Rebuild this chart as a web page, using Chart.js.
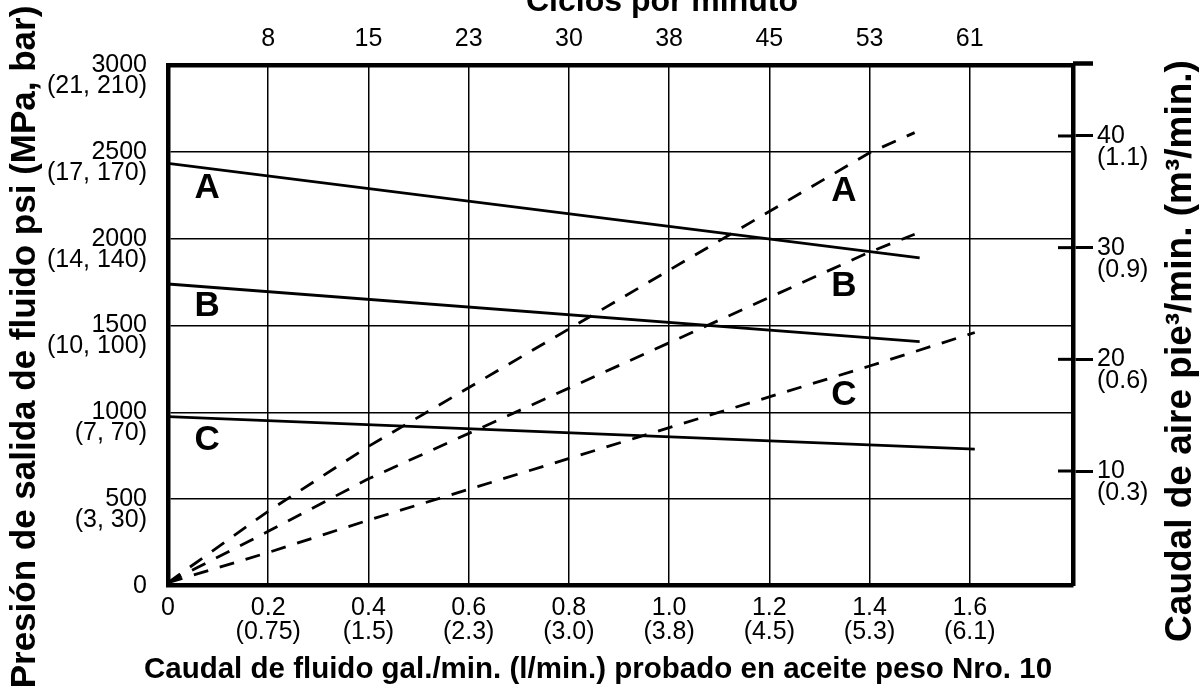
<!DOCTYPE html>
<html>
<head>
<meta charset="utf-8">
<script src="https://cdn.jsdelivr.net/npm/chart.js@4.4.0/dist/chart.umd.min.js"></script>
<style>
  html, body { margin: 0; padding: 0; background: #fff; }
  canvas { display: block; }
</style>
</head>
<body>
<canvas id="pumpChart" width="1204" height="696"></canvas>
<script>
// outlet fluid pressure (psi) against fluid flow (gal/min) - solid lines
const flowA = [0, 1.5];
const psiA = [2436, 1890];
const flowB = [0, 1.5];
const psiB = [1740, 1407];
const flowC = [0, 1.61];
const psiC = [975, 788];

// air consumption (cfm) against fluid flow (gal/min) - dashed lines
const airFlowA = [0, 0.2, 0.4, 1.4, 1.49];
const cfmA = [0, 6.4, 12.2, 38.5, 40.3];
const airFlowB = [0, 0.2, 0.4, 1.4, 1.49];
const cfmB = [0, 4.6, 9.3, 29.6, 31.2];
const airFlowC = [0, 0.2, 0.4, 1.4, 1.61];
const cfmC = [0, 2.7, 5.6, 19.4, 22.4];

// axis ticks and their labels
const gpmTicks = [0, 0.2, 0.4, 0.6, 0.8, 1.0, 1.2, 1.4, 1.6];
const lpmLabels = ['', '(0.75)', '(1.5)', '(2.3)', '(3.0)', '(3.8)', '(4.5)', '(5.3)', '(6.1)'];
const cycleTicks = [0.2, 0.4, 0.6, 0.8, 1.0, 1.2, 1.4, 1.6];
const cycleLabels = ['8', '15', '23', '30', '38', '45', '53', '61'];
const psiTicks = [0, 500, 1000, 1500, 2000, 2500, 3000];
const mpaBarLabels = ['', '(3, 30)', '(7, 70)', '(10, 100)', '(14, 140)', '(17, 170)', '(21, 210)'];
const cfmTicks = [10, 20, 30, 40];
const m3Labels = ['(0.3)', '(0.6)', '(0.9)', '(1.1)'];

// curve letters, placed in fluid flow / psi units
const curveTags = [
    { text: 'A', x: 0.078, y: 2293 },
    { text: 'B', x: 0.078, y: 1613 },
    { text: 'C', x: 0.078, y: 840 },
    { text: 'A', x: 1.349, y: 2276 },
    { text: 'B', x: 1.349, y: 1728 },
    { text: 'C', x: 1.349, y: 1097 }
];

const FONT = '"Liberation Sans", Arial, Helvetica, sans-serif';

const toPoints = (xs, ys) => xs.map((x, i) => ({ x: x, y: ys[i] }));

function solidSet(xs, ys) {
    return {
        data: toPoints(xs, ys),
        yAxisID: 'y',
        borderColor: '#000',
        borderWidth: 2.8,
        showLine: true,
        pointRadius: 0,
        fill: false
    };
}

function dashedSet(xs, ys) {
    return {
        data: toPoints(xs, ys),
        yAxisID: 'y2',
        borderColor: '#000',
        borderWidth: 2.8,
        borderDash: [15, 12],
        showLine: true,
        pointRadius: 0,
        fill: false
    };
}

const extrasPlugin = {
    id: 'extras',
    afterDraw(chart) {
        const { ctx, chartArea, scales } = chart;
        ctx.save();
        ctx.strokeStyle = '#000';
        ctx.fillStyle = '#000';

        // inner part of the air flow ticks
        ctx.lineWidth = 3;
        cfmTicks.forEach(v => {
            const y = scales.y2.getPixelForValue(v);
            ctx.beginPath();
            ctx.moveTo(chartArea.right - 15, y);
            ctx.lineTo(chartArea.right, y);
            ctx.stroke();
        });
        // top frame runs past the right edge
        ctx.lineWidth = 4.5;
        ctx.beginPath();
        ctx.moveTo(chartArea.right, chartArea.top - 2);
        ctx.lineTo(chartArea.right + 20, chartArea.top - 2);
        ctx.stroke();

        // curve letters
        ctx.font = 'bold 35px ' + FONT;
        ctx.textAlign = 'center';
        ctx.textBaseline = 'middle';
        curveTags.forEach(t => {
            ctx.fillText(t.text, scales.x.getPixelForValue(t.x), scales.y.getPixelForValue(t.y));
        });

        // axis titles
        ctx.font = 'bold 29.5px ' + FONT;
        ctx.fillText('Caudal de fluido gal./min. (l/min.) probado en aceite peso Nro. 10', 598, 670);
        ctx.font = 'bold 32px ' + FONT;
        ctx.fillText('Ciclos por minuto', 662, 2);

        ctx.save();
        ctx.translate(25, 347);
        ctx.rotate(-Math.PI / 2);
        ctx.font = 'bold 35px ' + FONT;
        ctx.fillText('Presión de salida de fluido psi (MPa, bar)', 0, 0);
        ctx.restore();

        ctx.save();
        ctx.translate(1181, 351);
        ctx.rotate(-Math.PI / 2);
        ctx.font = 'bold 37px ' + FONT;
        ctx.fillText('Caudal de aire pie³/min. (m³/min.)', 0, 0);
        ctx.restore();

        ctx.restore();
    }
};

const frame = { display: true, width: 4.5, color: '#000' };

new Chart(document.getElementById('pumpChart'), {
    type: 'scatter',
    data: {
        datasets: [
            solidSet(flowA, psiA),
            solidSet(flowB, psiB),
            solidSet(flowC, psiC),
            dashedSet(airFlowA, cfmA),
            dashedSet(airFlowB, cfmB),
            dashedSet(airFlowC, cfmC)
        ]
    },
    options: {
        responsive: false,
        animation: false,
        layout: { padding: 0 },
        plugins: {
            legend: { display: false },
            tooltip: { enabled: false }
        },
        scales: {
            x: {
                type: 'linear',
                position: 'bottom',
                min: 0,
                max: 1.806,
                afterBuildTicks: s => { s.ticks = gpmTicks.map(v => ({ value: v })); },
                afterFit: s => { s.height = 110.3; },
                grid: { color: '#000', lineWidth: 1.5, drawTicks: false },
                border: frame,
                ticks: {
                    autoSkip: false,
                    maxRotation: 0,
                    padding: 10,
                    color: '#000',
                    font: { family: FONT, size: 25, lineHeight: 0.96 },
                    callback: (v, i) => i === 0 ? '0' : [gpmTicks[i].toFixed(1), lpmLabels[i]]
                }
            },
            x2: {
                type: 'linear',
                position: 'top',
                min: 0,
                max: 1.806,
                afterBuildTicks: s => { s.ticks = cycleTicks.map(v => ({ value: v })); },
                afterFit: s => { s.height = 65.5; },
                grid: { drawOnChartArea: false, drawTicks: false },
                border: frame,
                ticks: {
                    autoSkip: false,
                    maxRotation: 0,
                    padding: 13.5,
                    color: '#000',
                    font: { family: FONT, size: 25, lineHeight: 1.0 },
                    callback: (v, i) => cycleLabels[i]
                }
            },
            y: {
                type: 'linear',
                position: 'left',
                min: 0,
                max: 3000,
                afterBuildTicks: s => { s.ticks = psiTicks.map(v => ({ value: v })); },
                afterFit: s => { s.width = 168; },
                grid: { color: '#000', lineWidth: 1.5, drawTicks: false },
                border: frame,
                ticks: {
                    autoSkip: false,
                    padding: 21,
                    color: '#000',
                    font: { family: FONT, size: 25, lineHeight: 0.84 },
                    callback: (v, i) => i === 0 ? '0' : ['', String(psiTicks[i]), mpaBarLabels[i]]
                }
            },
            y2: {
                type: 'linear',
                position: 'right',
                min: -0.27,
                max: 46.31,
                afterBuildTicks: s => { s.ticks = cfmTicks.map(v => ({ value: v })); },
                afterFit: s => { s.width = 131; },
                grid: { drawOnChartArea: false, drawTicks: true, tickLength: 20, tickWidth: 3, tickColor: '#000' },
                border: frame,
                ticks: {
                    autoSkip: false,
                    padding: 4,
                    color: '#000',
                    font: { family: FONT, size: 25, lineHeight: 0.88 },
                    callback: (v, i) => ['', String(cfmTicks[i]), m3Labels[i]]
                }
            }
        }
    },
    plugins: [extrasPlugin]
});
</script>
</body>
</html>
